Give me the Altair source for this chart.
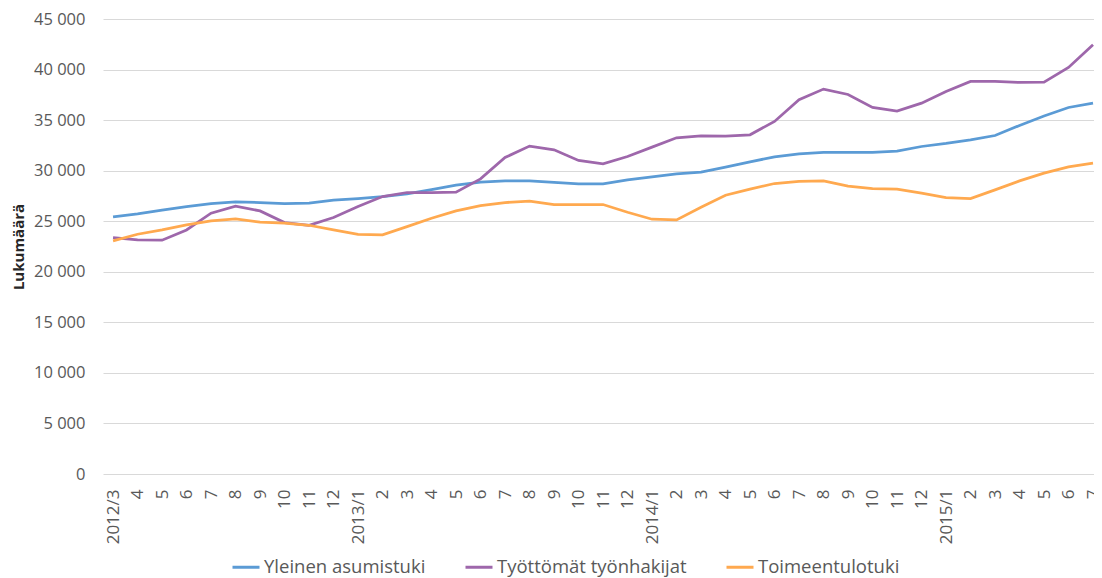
import altair as alt
import pandas as pd

month_labels = ["2012/3", "4", "5", "6", "7", "8", "9", "10", "11", "12",
                "2013/1", "2", "3", "4", "5", "6", "7", "8", "9", "10", "11", "12",
                "2014/1", "2", "3", "4", "5", "6", "7", "8", "9", "10", "11", "12",
                "2015/1", "2", "3", "4", "5", "6", "7"]

series_names = ["Yleinen asumistuki", "Työttömät työnhakijat", "Toimeentulotuki"]

yleinen_asumistuki = [25430, 25730, 26090, 26450, 26750, 26910, 26850, 26750, 26780, 27080,
                      27240, 27440, 27700, 28130, 28560, 28860, 28990, 28990, 28830, 28700,
                      28700, 29090, 29390, 29690, 29850, 30350, 30870, 31370, 31670, 31800,
                      31800, 31800, 31930, 32390, 32690, 33050, 33480, 34470, 35400, 36250,
                      36680]

tyottomat_tyonhakijat = [23380, 23150, 23120, 24140, 25790, 26490, 26020, 24870, 24600, 25360,
                         26450, 27440, 27840, 27840, 27870, 29190, 31300, 32430, 32060, 31010,
                         30680, 31400, 32330, 33250, 33450, 33420, 33550, 34870, 37010, 38070,
                         37540, 36250, 35890, 36680, 37840, 38830, 38830, 38730, 38760, 40210,
                         42460]

toimeentulotuki = [23050, 23710, 24140, 24640, 25030, 25230, 24900, 24800, 24600, 24140,
                   23710, 23650, 24470, 25300, 26020, 26550, 26850, 26980, 26650, 26650,
                   26650, 25890, 25200, 25130, 26390, 27570, 28170, 28730, 28930, 28990,
                   28470, 28230, 28170, 27770, 27340, 27240, 28100, 28990, 29750, 30380,
                   30740]

colors = ["#5B9BD5", "#9E67AB", "#FFA94F"]

rows = []
for name, vals in zip(series_names, [yleinen_asumistuki, tyottomat_tyonhakijat, toimeentulotuki]):
    for i, v in enumerate(vals):
        rows.append({"idx": i, "kk": month_labels[i], "sarja": name, "arvo": v})
df = pd.DataFrame(rows)

label_array = "[" + ",".join("'" + s + "'" for s in month_labels) + "]"

FONT = "Open Sans"
GREY = "#595959"

chart = alt.Chart(df).mark_line(strokeWidth=2.75, clip=True).encode(
    x=alt.X("idx:Q",
            scale=alt.Scale(domain=[-0.41, 40.04], nice=False, zero=False),
            axis=alt.Axis(values=list(range(len(month_labels))),
                          labelExpr=label_array + "[datum.value]",
                          title=None, grid=False, domain=False, ticks=False,
                          labelAngle=270, labelAlign="right", labelBaseline="middle",
                          labelPadding=15,
                          labelFlush=False, labelOverlap=False, labelBound=False,
                          labelFont=FONT, labelFontSize=17, labelColor=GREY)),
    y=alt.Y("arvo:Q",
            scale=alt.Scale(domain=[0, 45000], nice=False),
            axis=alt.Axis(values=list(range(0, 45001, 5000)),
                          labelExpr="replace(format(datum.value, ','), ',', ' ')",
                          title="Lukumäärä", titleFont=FONT, titleFontSize=15,
                          titleFontWeight="bold", titleColor="#262626",
                          titlePadding=7,
                          grid=True, gridColor="#D9D9D9", gridWidth=1,
                          domain=False, ticks=False, tickSize=0, labelPadding=18,
                          labelFont=FONT, labelFontSize=16.5, labelColor=GREY)),
    color=alt.Color("sarja:N",
                    scale=alt.Scale(domain=series_names, range=colors),
                    legend=alt.Legend(title=None, orient="none", direction="horizontal",
                                      legendX=128, legendY=533,
                                      symbolType="stroke", symbolSize=729,
                                      symbolStrokeWidth=3, labelOffset=3,
                                      columnPadding=33, labelLimit=400,
                                      labelFont=FONT, labelFontSize=18.5,
                                      labelColor=GREY)),
    order="idx:Q",
).properties(
    width=991, height=455,
    autosize=alt.AutoSizeParams(type="none"),
    padding={"left": 95, "top": 11, "right": 0, "bottom": 104},
).configure_view(stroke=None)

chart.save("out.html", embed_options={"renderer": "svg", "actions": False})
